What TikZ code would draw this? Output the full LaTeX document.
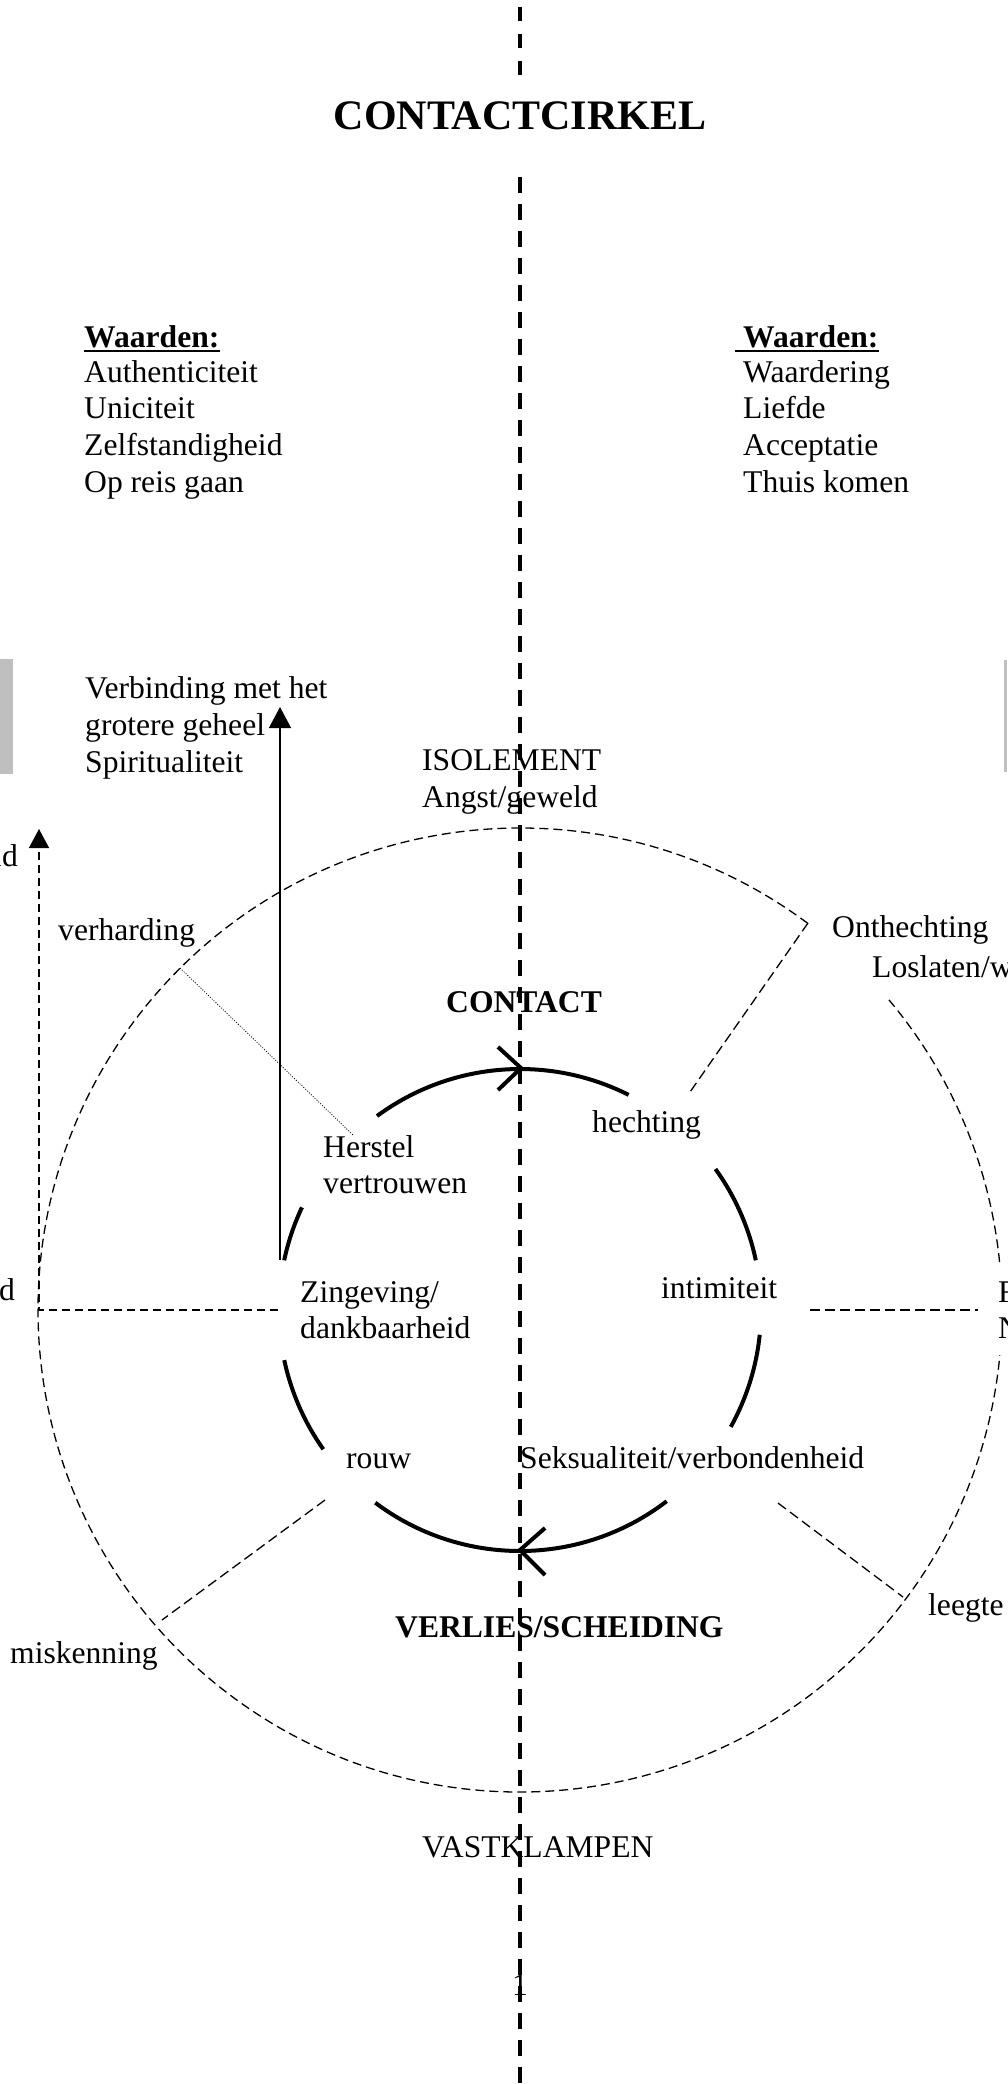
\documentclass[tikz,border=0pt]{standalone}
\usepackage{fontspec}
\setmainfont{Liberation Serif}
\usetikzlibrary{arrows.meta}
\begin{document}
\begin{tikzpicture}[x=1pt,y=-1pt,
  txt/.style={anchor=base west,inner sep=0pt,font=\fontsize{31.6pt}{36.4pt}\selectfont},
  btxt/.style={anchor=base west,inner sep=0pt,font=\fontsize{31.6pt}{36.4pt}\selectfont\bfseries},
  innerarc/.style={line width=4pt},
  outerarc/.style={line width=1.3pt,dash pattern=on 9pt off 5pt},
  spoke/.style={line width=1.3pt,dash pattern=on 10pt off 5pt},
  axisline/.style={line width=3.5pt,dash pattern=on 16pt off 11pt},
  solidarrow/.style={line width=1.3pt,-{Triangle[width=22pt,length=21pt]}},
  dasharrow/.style={line width=1.4pt,dash pattern=on 8pt off 5pt,-{Triangle[width=20pt,length=19pt]}},
  dotline/.style={line width=0.8pt,dash pattern=on 1pt off 1.6pt},
]
\useasboundingbox (0,0) rectangle (1007,2084);
\fill[white] (0,0) rectangle (1007,2084);

% grey bars at the edges
\fill[black!25] (0,659) rectangle (13,774);
\fill[black!25] (1004,660) rectangle (1007,772);

% title
\node[anchor=base,inner sep=0pt,font=\fontsize{42pt}{48pt}\selectfont\bfseries] (title) at (520,130) {CONTACTCIRKEL};

% values, left
\node[btxt] (wl) at (84,347) {Waarden:};
\node[txt] (wl1) at (84,382) {Authenticiteit};
\node[txt] (wl2) at (84,418) {Uniciteit};
\node[txt] (wl3) at (84,455) {Zelfstandigheid};
\node[txt] (wl4) at (84,492) {Op reis gaan};
\draw[line width=1.6pt] ([yshift=-4pt]wl.base west) -- ([yshift=-4pt]wl.base east);

% values, right
\node[btxt] (wr) at (743,347) {Waarden:};
\node[txt] (wr1) at (743,382) {Waardering};
\node[txt] (wr2) at (743,418) {Liefde};
\node[txt] (wr3) at (743,455) {Acceptatie};
\node[txt] (wr4) at (743,492) {Thuis komen};
\draw[line width=1.6pt] ([xshift=-8pt,yshift=-4pt]wr.base west) -- ([yshift=-4pt]wr.base east);

% spirituality
\node[txt] (sp1) at (85,698) {Verbinding met het};
\node[txt] (sp2) at (85,735) {grotere geheel};
\node[txt] (sp3) at (85,772) {Spiritualiteit};

% outer labels
\node[txt,anchor=base east] (idl) at (18,866) {id};
\node[txt] (iso) at (422,770) {ISOLEMENT};
\node[txt] (ang) at (422,807) {Angst/geweld};
\node[txt] (verh) at (58,940) {verharding};
\node[txt] (onth) at (832,937) {Onthechting};
\node[txt] (losl) at (872,977) {Loslaten/w};
\node[txt] (dl) at (-1,1300) {d};
\node[txt] (fr) at (998,1302) {F};
\node[txt] (nr) at (998,1338) {N};
\node[txt] (leeg) at (928,1615) {leegte};
\node[txt] (misk) at (10,1663) {miskenning};
\node[txt] (vast) at (422,1857) {VASTKLAMPEN};
\node[txt] (pnum) at (512,1995) {1};

% inner labels
\node[btxt] (cont) at (446,1012) {CONTACT};
\node[txt] (hech) at (592,1132) {hechting};
\node[txt] (her1) at (323,1157) {Herstel};
\node[txt] (her2) at (323,1193) {vertrouwen};
\node[txt] (zin1) at (300,1302) {Zingeving/};
\node[txt] (zin2) at (300,1338) {dankbaarheid};
\node[txt] (inti) at (661,1298) {intimiteit};
\node[txt] (rouw) at (346,1468) {rouw};
\node[txt] (seks) at (520,1468) {Seksualiteit/verbondenheid};
\node[btxt] (verl) at (395,1637) {VERLIES/SCHEIDING};

% centre
\coordinate (C) at (520,1310);

% outer dashed circle (with gaps)
\draw[outerarc] (C) ++(53.35:482pt) arc[start angle=53.35,end angle=354.6,radius=482pt];
\draw[outerarc] (C) ++(5.7:482pt) arc[start angle=5.7,end angle=40.4,radius=482pt];

% spokes
\coordinate (oOn) at (808,923);
\coordinate (iOn) at (690,1092);
\draw[spoke] (oOn) -- (iOn);
\coordinate (iRo) at (325,1500);
\coordinate (oRo) at (162,1620);
\draw[spoke] (iRo) -- (oRo);
\coordinate (iSe) at (778,1503);
\coordinate (oSe) at (903,1597);
\draw[spoke] (iSe) -- (oSe);
\coordinate (iIn) at (810,1310);
\coordinate (oIn) at (978,1310);
\draw[spoke] (iIn) -- (oIn);

% dotted line verharding -> Herstel
\coordinate (dv) at (180,968);
\coordinate (dh) at (353,1135);
\draw[dotline] (dv) -- (dh);

% left dashed arrow
\coordinate (lz) at (278,1310);
\coordinate (lc) at (39,1310);
\coordinate (lt) at (39,829);
\draw[dasharrow] (lz) -- (lc) -- (lt);

% solid arrow
\coordinate (sb) at (280,1260);
\coordinate (st) at (280,707);
\draw[solidarrow] (sb) -- (st);

% inner thick circle (with gaps)
\draw[innerarc] (C) ++(63.2:241pt) arc[start angle=63.2,end angle=126.4,radius=241pt];
\draw[innerarc] (C) ++(154.8:241pt) arc[start angle=154.8,end angle=168.1,radius=241pt];
\draw[innerarc] (C) ++(192:241pt) arc[start angle=192,end angle=215.3,radius=241pt];
\draw[innerarc] (C) ++(233.1:241pt) arc[start angle=233.1,end angle=307.5,radius=241pt];
\draw[innerarc] (C) ++(331:241pt) arc[start angle=331,end angle=354.1,radius=241pt];
\draw[innerarc] (C) ++(11.9:241pt) arc[start angle=11.9,end angle=35.8,radius=241pt];

% open arrow heads on the inner circle
\draw[innerarc] (498,1047) -- (521,1068) -- (498,1090);
\draw[innerarc] (545,1528) -- (520,1550) -- (545,1575);

% central dashed axis
\draw[axisline,dash pattern=on 14pt off 13pt] (520,7) -- (520,77);
\draw[axisline] (520,177) -- (520,2084);
\end{tikzpicture}
\end{document}
